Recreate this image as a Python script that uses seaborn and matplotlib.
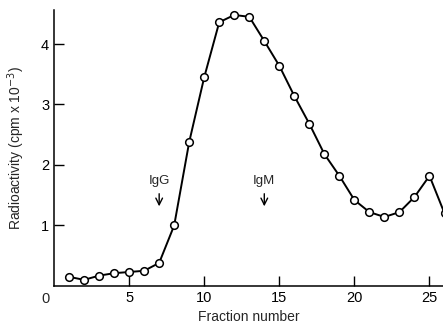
import numpy as np
import pandas as pd
import seaborn as sns
import matplotlib.pyplot as plt

# fraction number vs radioactivity (cpm x 10^-3)
fraction = [1, 2, 3, 4, 5, 6, 7, 8, 9, 10, 11, 12, 13, 14, 15, 16, 17, 18, 19, 20, 21, 22, 23, 24, 25, 26]
activity = [0.15, 0.10, 0.17, 0.21, 0.23, 0.25, 0.38, 1.0, 2.38, 3.45, 4.36, 4.48, 4.45, 4.05, 3.64,
            3.14, 2.68, 2.18, 1.82, 1.42, 1.22, 1.14, 1.22, 1.47, 1.82, 1.2]

# marker positions (fraction number) for the Ig standards
markers = ['IgG', 'IgM']
marker_pos = [7, 14]

df = pd.DataFrame({'fraction': fraction, 'activity': activity})

sns.set_style('ticks')
plt.rcParams['font.family'] = ['Liberation Sans', 'DejaVu Sans']

fig = plt.figure(figsize=(4.43, 3.29), dpi=100)
ax = fig.add_axes([0.122, 0.131, 0.878, 0.84])

sns.lineplot(data=df, x='fraction', y='activity', ax=ax, color='black', linewidth=1.4,
             marker='o', markersize=5.5, markerfacecolor='white', markeredgecolor='black',
             markeredgewidth=1.1)

ax.set_xlim(0, 25.9)
ax.set_ylim(0, 4.57)
ax.set_xticks([5, 10, 15, 20, 25])
ax.set_yticks([1, 2, 3, 4])
ax.tick_params(direction='in', length=7, width=1, labelsize=10.5, colors='black')
sns.despine(ax=ax)
for s in ['left', 'bottom']:
    ax.spines[s].set_linewidth(1.1)
    ax.spines[s].set_color('black')

ax.set_xlabel('Fraction number', fontsize=10, labelpad=4)
ax.set_ylabel('Radioactivity (cpm x 10$^{-3}$)', fontsize=10, labelpad=10)

# corner zero
ax.text(-0.6, -0.1, '0', ha='center', va='top', fontsize=10.5)

for name, pos in zip(markers, marker_pos):
    ax.annotate('', xy=(pos, 1.27), xytext=(pos, 1.57),
                arrowprops=dict(arrowstyle='->', color='black', lw=1, mutation_scale=12))
    ax.text(pos, 1.63, name, ha='center', va='bottom', fontsize=9.5)

fig.savefig('out.png', dpi=100)
